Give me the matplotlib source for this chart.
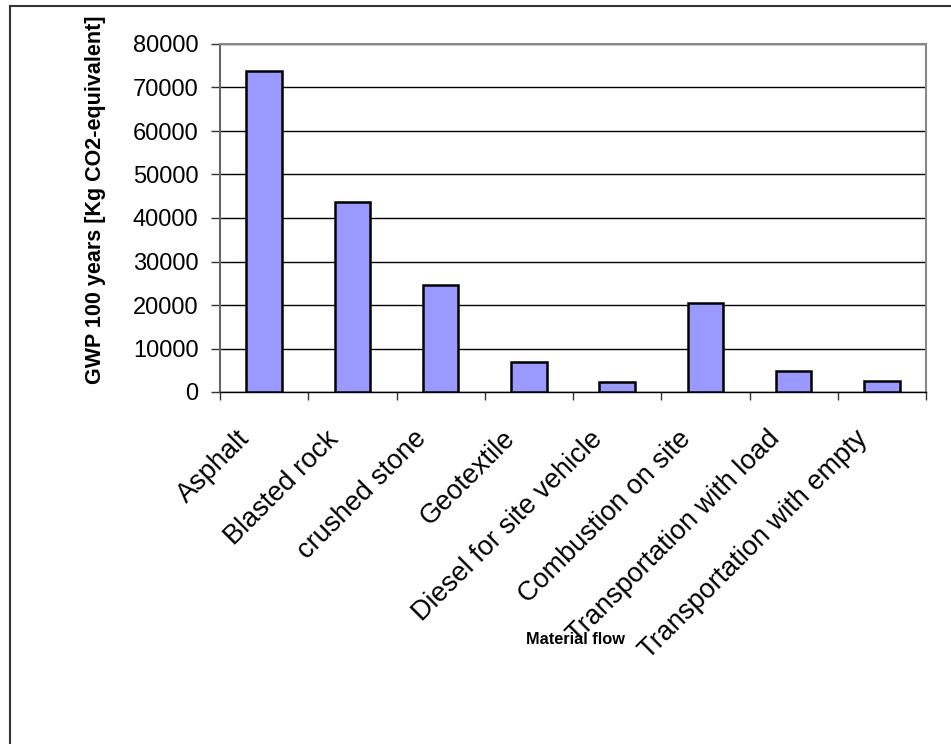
import matplotlib
matplotlib.use("Agg")
import matplotlib.pyplot as plt
from matplotlib.lines import Line2D
from matplotlib.transforms import ScaledTranslation

categories = [
    "Asphalt",
    "Blasted rock",
    "crushed stone",
    "Geotextile",
    "Diesel for site vehicle",
    "Combustion on site",
    "Transportation with load",
    "Transportation with empty",
]
gwp = [73700, 43750, 24600, 6850, 2400, 20400, 4850, 2600]
yticks = [0, 10000, 20000, 30000, 40000, 50000, 60000, 70000, 80000]

plt.rcParams["font.family"] = ["Liberation Sans", "DejaVu Sans"]

W, H = 951, 744
fig = plt.figure(figsize=(W / 100, H / 100), dpi=100)
ax = fig.add_axes([220 / W, 1 - 392 / H, 706 / W, 348 / H])

x = list(range(len(categories)))
ax.bar(x, gwp, width=0.4, color="#9999FF", edgecolor="black", linewidth=1.8,
       zorder=3)

ax.set_xlim(-0.5, len(categories) - 0.5)
ax.set_ylim(0, 80000)
ax.set_yticks(yticks)
ax.set_yticklabels([str(v) for v in yticks], fontsize=17)
ax.yaxis.grid(True, color="black", linewidth=1.0, zorder=0)

# category labels end just left of each bar centre, tick marks on boundaries
ax.set_xticks(x)
ax.set_xticklabels(categories, rotation=45, ha="right", va="baseline",
                   rotation_mode="anchor", fontsize=19.5)
ax.tick_params(axis="x", which="major", length=0, pad=34.5)
shift = ScaledTranslation(-13 / 100, 0, fig.dpi_scale_trans)
for lab in ax.get_xticklabels():
    lab.set_transform(lab.get_transform() + shift)
ax.set_xticks([i - 0.5 for i in range(len(categories) + 1)], minor=True)
ax.tick_params(axis="x", which="minor", length=6, width=1.0, color="#333333")
ax.tick_params(axis="y", length=6.5, width=1.0, color="#333333", pad=9)

for side in ["top", "right"]:
    ax.spines[side].set_color("#888888")
    ax.spines[side].set_linewidth(1.5)
ax.spines["left"].set_color("#666666")
ax.spines["left"].set_linewidth(1.5)
ax.spines["bottom"].set_color("black")
ax.spines["bottom"].set_linewidth(1.0)

fig.text(96 / W, 1 - 200 / H, "GWP 100 years [Kg CO2-equivalent]",
         rotation=90, ha="center", va="center", fontsize=15.5,
         fontweight="bold")
fig.text(575 / W, 1 - 640 / H, "Material flow", ha="center", va="center",
         fontsize=11.8, fontweight="bold")

# frame lines along the top and left edge
fig.add_artist(Line2D([9.5 / W, 1.0], [1 - 5.5 / H, 1 - 5.5 / H],
                      transform=fig.transFigure, color="#333333", lw=1.5))
fig.add_artist(Line2D([9.5 / W, 9.5 / W], [0.0, 1 - 5.5 / H],
                      transform=fig.transFigure, color="#333333", lw=1.5))

fig.savefig("out.png", dpi=100)
